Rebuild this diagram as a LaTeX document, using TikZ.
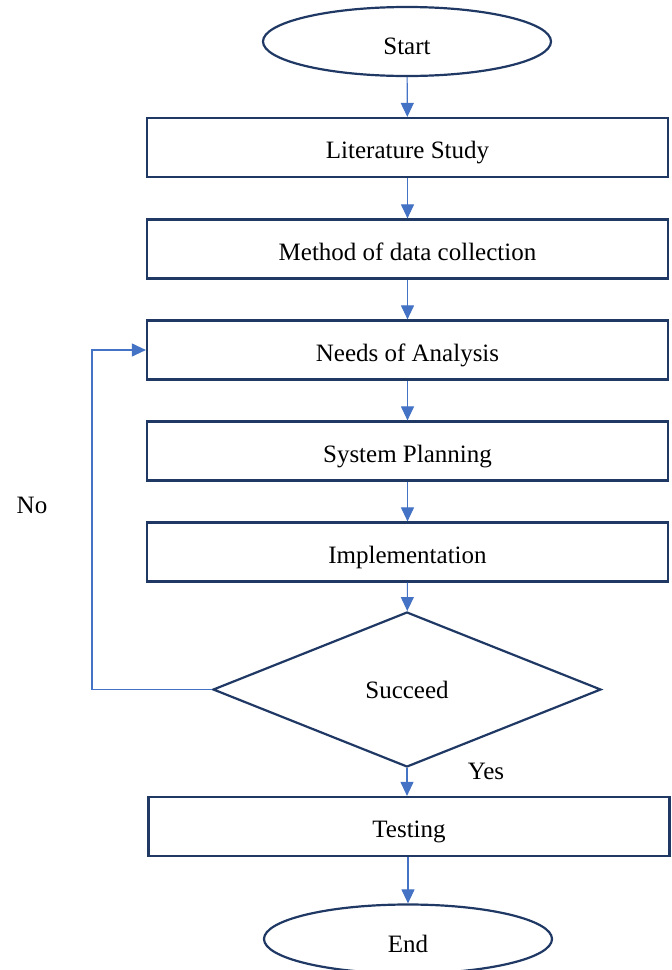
\documentclass[tikz,border=0pt]{standalone}
\usepackage{fontspec}
\setmainfont{Liberation Serif}
\usetikzlibrary{positioning,shapes.geometric,arrows.meta}
\definecolor{boxline}{RGB}{31,56,100}
\definecolor{arrowblue}{RGB}{68,114,196}
\begin{document}
\begin{tikzpicture}[x=1pt,y=-1pt,
  font=\fontsize{25}{30}\selectfont,
  stepbox/.style={draw=boxline,line width=2.2pt,minimum width=521pt,minimum height=59pt,inner sep=0pt,text height=22pt,text depth=0pt},
  terminal/.style={ellipse,draw=boxline,line width=2.2pt,minimum width=288pt,minimum height=69pt,inner sep=0pt,text height=26.5pt,text depth=0pt},
  decision/.style={diamond,draw=boxline,line width=2.2pt,aspect=2.5,minimum width=388pt,minimum height=155pt,inner sep=0pt,text depth=0pt},
  flow/.style={draw=arrowblue,line width=1.1pt,-{Triangle[length=14pt,width=13pt]}}]
\useasboundingbox (0,0) rectangle (672,970);
\node[terminal] (start) at (407,41.5) {Start};
\node[stepbox] (lit) at (407.5,147.5) {Literature Study};
\node[stepbox] (method) at (407.5,249) {Method of data collection};
\node[stepbox] (needs) at (407.5,350) {Needs of Analysis};
\node[stepbox] (plan) at (407.5,451) {System Planning};
\node[stepbox] (impl) at (407.5,552) {Implementation};
\node[decision] (succ) at (407,689.5) {Succeed};
\node[stepbox] (test) at (409,826.5) {Testing};
\node[terminal] (end) at (408,939) {End};
\node (no) at (32,505) {No};
\node (yes) at (486,771) {Yes};
\coordinate (noturn) at (92,689.5);
\draw[flow] (start) -- (lit);
\draw[flow] (lit) -- (method);
\draw[flow] (method) -- (needs);
\draw[flow] (needs) -- (plan);
\draw[flow] (plan) -- (impl);
\draw[flow] (impl) -- (succ);
\draw[flow] (succ) -- (succ.south |- test.north);
\draw[flow] (test.south -| end.north) -- (end);
\draw[flow] (succ.west) -- (noturn) |- (needs.west);
\end{tikzpicture}
\end{document}
